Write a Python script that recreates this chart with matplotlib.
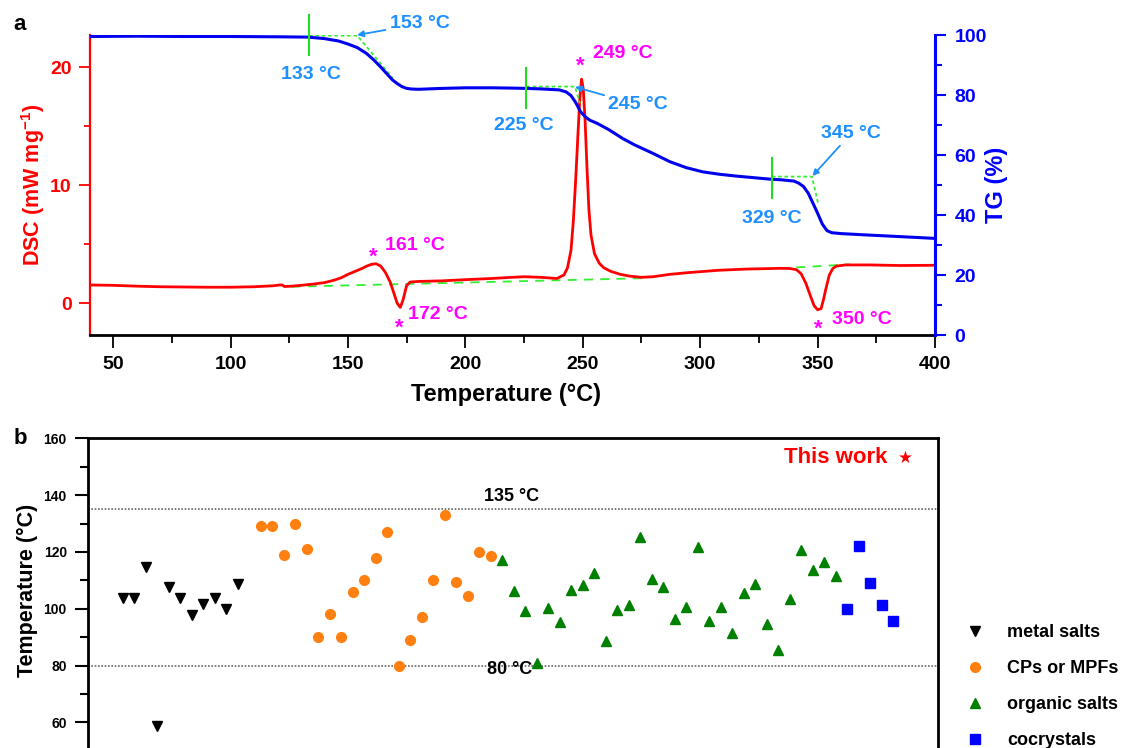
import numpy as np
import matplotlib
matplotlib.use("Agg")
import matplotlib.pyplot as plt
from matplotlib.ticker import MultipleLocator

plt.rcParams['font.family'] = ['Liberation Sans', 'DejaVu Sans']
plt.rcParams['mathtext.fontset'] = 'custom'
plt.rcParams['mathtext.rm'] = 'Liberation Sans'
plt.rcParams['mathtext.bf'] = 'Liberation Sans:bold'

# ---- panel a : DSC / TG curves ----
dsc_T = [40, 50, 60, 70, 80, 90, 100, 110, 118, 121, 122, 123, 126, 130, 135, 140, 144, 147,
         150, 153, 156, 158, 160, 162, 164, 166, 168, 169.5, 171, 172.3, 173.5, 175, 176.5,
         180, 190, 200, 211, 220, 225, 232, 239, 242, 243.5, 245, 246, 247, 248, 248.8, 249.5,
         250.2, 251, 251.8, 252.6, 253.5, 255, 257, 259, 262, 266, 270, 275, 280, 287, 295,
         308, 320, 334, 338, 341, 343, 345, 347, 348.5, 350, 351.5, 352.5, 353.5, 355, 356.5,
         358, 362, 372, 385, 400]
dsc_val = [1.55, 1.52, 1.45, 1.40, 1.38, 1.36, 1.36, 1.40, 1.48, 1.55, 1.55, 1.42, 1.45, 1.52,
           1.62, 1.75, 1.95, 2.15, 2.45, 2.7, 2.95, 3.15, 3.3, 3.35, 3.15, 2.6, 1.8, 0.9, 0.0,
           -0.35, 0.3, 1.5, 1.8, 1.85, 1.9, 2.0, 2.1, 2.2, 2.25, 2.2, 2.1, 2.4, 3.0, 4.5, 7.0,
           10.5, 14.5, 17.5, 19.0, 18.2, 15.5, 11.5, 8.0, 5.8, 4.2, 3.4, 3.0, 2.7, 2.45, 2.3,
           2.2, 2.25, 2.45, 2.6, 2.8, 2.9, 2.96, 2.95, 2.85, 2.5, 1.7, 0.6, -0.2, -0.55, -0.45,
           0.3, 1.2, 2.4, 2.95, 3.15, 3.25, 3.25, 3.2, 3.22]

tg_T = [40, 60, 80, 100, 120, 133, 140, 146, 150, 154, 158, 161, 164, 167, 169, 171, 173, 175,
        177, 180, 190, 200, 211, 220, 226, 233, 240, 243, 245, 247, 249, 251, 253, 256, 261,
        267, 272, 280, 287, 294, 301, 308, 315, 322, 329, 335, 340, 342, 344, 346, 348, 350,
        352, 354, 356, 360, 372, 385, 400]
tg_val = [99.5, 99.6, 99.5, 99.5, 99.4, 99.3, 98.8, 98.0, 97.0, 95.8, 93.8, 91.7, 89.3, 86.7,
          85.0, 83.8, 82.8, 82.2, 82.0, 81.9, 82.2, 82.4, 82.4, 82.3, 82.2, 82.0, 81.7, 81.0,
          79.8, 77.5, 74.5, 72.8, 71.6, 70.6, 68.5, 65.5, 63.4, 60.5, 57.8, 55.8, 54.4, 53.6,
          53.0, 52.5, 52.0, 51.7, 51.3, 50.6, 49.5, 47.3, 44.0, 40.6, 37.0, 34.8, 34.1, 33.8,
          33.3, 32.8, 32.2]

# DSC baselines (green dashed)
base1_T, base1_val = [126, 275], [1.4, 2.12]
base2_T, base2_val = [334, 364], [2.96, 3.3]
# TG onset tangents (green dotted) and onset markers
tan_T = [[133.5, 154.0, 169.1], [226, 246.7, 248.8], [330.5, 347.6, 350.4]]
tan_val = [[99.8, 99.8, 85.6], [82.8, 82.8, 77.2], [52.8, 52.8, 43.3]]
onset_T = [133.5, 226, 330.5]
onset_lo = [93.3, 75.6, 45.6]
onset_hi = [106.7, 88.9, 58.9]

# ---- panel b : literature temperatures ----
metal_x = list(range(0, 11))
metal_y = [103.7, 103.7, 114.8, 58.7, 107.8, 103.7, 97.7, 101.7, 103.7, 99.8, 108.7]
cp_x = list(range(12, 33))
cp_y = [129, 129, 119, 130, 121, 90, 98, 90, 106, 110, 118, 127, 80, 89, 97, 110, 133,
        109.5, 104.6, 120, 118.5]
org_x = list(range(33, 63))
org_y = [117.3, 106.2, 99.3, 81, 100.2, 95.3, 106.5, 108.5, 112.5, 88.5, 99.4, 101.4,
         125.4, 110.5, 107.5, 96.5, 100.5, 121.6, 95.6, 100.5, 91.6, 105.5, 108.6, 94.5,
         85.5, 103.5, 120.6, 113.5, 116.6, 111.6]
co_x = list(range(63, 68))
co_y = [100, 122.1, 109.2, 101.2, 95.8]

W, H = 1132, 748
fig = plt.figure(figsize=(W / 100, H / 100), dpi=100)

blue_txt = '#1e8fff'
mag = '#ff00ff'
lgreen = '#33ee33'

# ================= panel a =================
ax1 = fig.add_axes([89.6 / W, 1 - 335 / H, 845.4 / W, 300 / H])
ax2 = ax1.twinx()

ax1.plot(dsc_T, dsc_val, color='#ff0000', lw=2.0, zorder=3)
ax1.plot(base1_T, base1_val, color=lgreen, lw=1.3, ls=(0, (5, 4)), zorder=2)
ax1.plot(base2_T, base2_val, color=lgreen, lw=1.3, ls=(0, (5, 4)), zorder=2)
ax1.set_xlim(40, 400)
ax1.set_ylim(-2.69, 22.74)

ax2.plot(tg_T, tg_val, color='#0000ee', lw=2.2, zorder=3)
for tx, ty in zip(tan_T, tan_val):
    ax2.plot(tx, ty, color=lgreen, lw=1.3, ls=(0, (2, 1.5)), zorder=2)
for ox, lo, hi in zip(onset_T, onset_lo, onset_hi):
    ax2.plot([ox, ox], [lo, hi], color='#22dd22', lw=1.5, clip_on=False, zorder=4)
ax2.set_ylim(0, 100)

for s in ['top', 'right']:
    ax1.spines[s].set_visible(False)
for s in ['top', 'left', 'bottom']:
    ax2.spines[s].set_visible(False)
ax1.spines['left'].set_color('#ff0000')
ax1.spines['left'].set_linewidth(1.6)
ax1.spines['bottom'].set_linewidth(2.0)
ax2.spines['right'].set_color('#0000ff')
ax2.spines['right'].set_linewidth(2.2)

ax1.xaxis.set_major_locator(MultipleLocator(50))
ax1.xaxis.set_minor_locator(MultipleLocator(25))
ax1.yaxis.set_major_locator(MultipleLocator(10))
ax1.yaxis.set_minor_locator(MultipleLocator(5))
ax2.yaxis.set_major_locator(MultipleLocator(20))
ax2.yaxis.set_minor_locator(MultipleLocator(10))

ax1.tick_params(axis='x', which='major', direction='out', length=9.5, width=1.3, pad=5.5,
                labelsize=14)
ax1.tick_params(axis='x', which='minor', direction='out', length=6, width=1.3)
ax1.tick_params(axis='y', which='major', direction='out', length=8, width=1.3, pad=5,
                labelsize=14, colors='#ff0000')
ax1.tick_params(axis='y', which='minor', direction='out', length=4.6, width=1.3,
                colors='#ff0000')
ax2.tick_params(axis='y', which='major', direction='out', length=8, width=1.5, pad=6,
                labelsize=14, colors='#0000ff')
ax2.tick_params(axis='y', which='minor', direction='out', length=5.3, width=1.5,
                colors='#0000ff')
for lab in ax1.get_xticklabels() + ax1.get_yticklabels() + ax2.get_yticklabels():
    lab.set_fontweight('bold')

ax1.set_xlabel('Temperature (°C)', fontsize=17, fontweight='bold')
ax1.xaxis.set_label_coords(0.493, -0.16)
ax1.set_ylabel('DSC (mW mg$^{\\mathbf{-1}}$)', fontsize=15.5, fontweight='bold',
               color='#ff0000')
ax1.yaxis.set_label_coords(-0.05, 0.5)
ax2.set_ylabel('TG (%)', fontsize=17, fontweight='bold', color='#0000ff')
ax2.yaxis.set_label_coords(1.059, 0.5)

# TG annotations
tkw = dict(color=blue_txt, fontsize=14, fontweight='bold', va='center')
ax2.text(134.3, 86.7, '133 °C', ha='center', **tkw)
ax2.text(224.7, 69.7, '225 °C', ha='center', **tkw)
ax2.text(330.5, 38.7, '329 °C', ha='center', **tkw)
akw = dict(arrowstyle='-|>', color=blue_txt, lw=1.3, mutation_scale=9, shrinkA=1, shrinkB=0)
ax2.annotate('153 °C', xy=(153.9, 100), xytext=(180.5, 103.7), ha='center',
             arrowprops=akw, annotation_clip=False, **tkw)
ax2.annotate('245 °C', xy=(246.7, 82.7), xytext=(273.6, 76.7), ha='center',
             arrowprops=akw, **tkw)
ax2.annotate('345 °C', xy=(347.8, 53), xytext=(364.3, 67.2), ha='center',
             arrowprops=akw, **tkw)

# DSC peak labels
peak_star = [(248.9, 20.68), (160.8, 4.52), (171.9, -1.5), (350.3, -1.64)]
peak_txt = [(254.5, 21.19, '249 °C'), (165.8, 4.86, '161 °C'), (175.7, -0.99, '172 °C'),
            (356.1, -1.36, '350 °C')]
for (sx, sy), (px, py, s) in zip(peak_star, peak_txt):
    ax1.annotate('*', xy=(sx, sy), xytext=(0, -9), textcoords='offset points',
                 ha='center', va='baseline', color=mag, fontsize=16, fontweight='bold',
                 annotation_clip=False)
    ax1.text(px, py, s, ha='left', va='center', color=mag, fontsize=14, fontweight='bold')

fig.text(20 / W, 1 - 24 / H, 'a', fontsize=16, fontweight='bold', ha='center', va='center')

# ================= panel b =================
b_ymin = 45
axb_bottom = 438.3 + (160 - b_ymin) * 2.84
axb = fig.add_axes([88.3 / W, 1 - axb_bottom / H, 850 / W, (axb_bottom - 438.3) / H])
axb.plot(metal_x, metal_y, ls='none', marker='v', ms=7.7, color='black', label='metal salts')
axb.plot(cp_x, cp_y, ls='none', marker='o', ms=7, color='#ff8010', label='CPs or MPFs')
axb.plot(org_x, org_y, ls='none', marker='^', ms=7.7, color='#008000', label='organic salts')
axb.plot(co_x, co_y, ls='none', marker='s', ms=6.5, color='#0000ff', label='cocrystals')
axb.axhline(135, color='#666666', lw=1.2, ls=(0, (1, 1)), zorder=1)
axb.axhline(80, color='#666666', lw=1.2, ls=(0, (1, 1)), zorder=1)
axb.set_xlim(-3, 70.9)
axb.set_ylim(b_ymin, 160)
axb.set_xticks([])
axb.yaxis.set_major_locator(MultipleLocator(20))
axb.yaxis.set_minor_locator(MultipleLocator(10))
axb.tick_params(axis='y', which='major', direction='out', length=9.5, width=1.5, pad=6,
                labelsize=10)
axb.tick_params(axis='y', which='minor', direction='out', length=6, width=1.5)
for lab in axb.get_yticklabels():
    lab.set_fontweight('bold')
for s in axb.spines.values():
    s.set_linewidth(2.0)
axb.set_ylabel('Temperature (°C)', fontsize=15.5, fontweight='bold')
axb.yaxis.set_label_coords(-0.0587, 1 - (590 - 438.3) / (axb_bottom - 438.3))

axb.text(33.8, 139.4, '135 °C', ha='center', va='center', fontsize=13, fontweight='bold')
axb.text(33.6, 78.7, '80 °C', ha='center', va='center', fontsize=13, fontweight='bold')
axb.text(66.5, 153.4, 'This work', ha='right', va='center', fontsize=16, fontweight='bold',
         color='#ff0000')
axb.text(68.0, 153.0, '★', ha='center', va='center', fontsize=12, color='#ff0000',
         family=['DejaVu Sans'])

axb.legend(loc='upper left', bbox_to_anchor=(966 / W, 1 - 624 / H),
           bbox_transform=fig.transFigure, frameon=False, borderpad=0, borderaxespad=0,
           handlelength=1.0, handletextpad=1.28, labelspacing=1.05,
           prop=dict(weight='bold', size=13))

fig.text(20 / W, 1 - 438 / H, 'b', fontsize=16, fontweight='bold', ha='center', va='center')

fig.savefig('out.png', dpi=100)
